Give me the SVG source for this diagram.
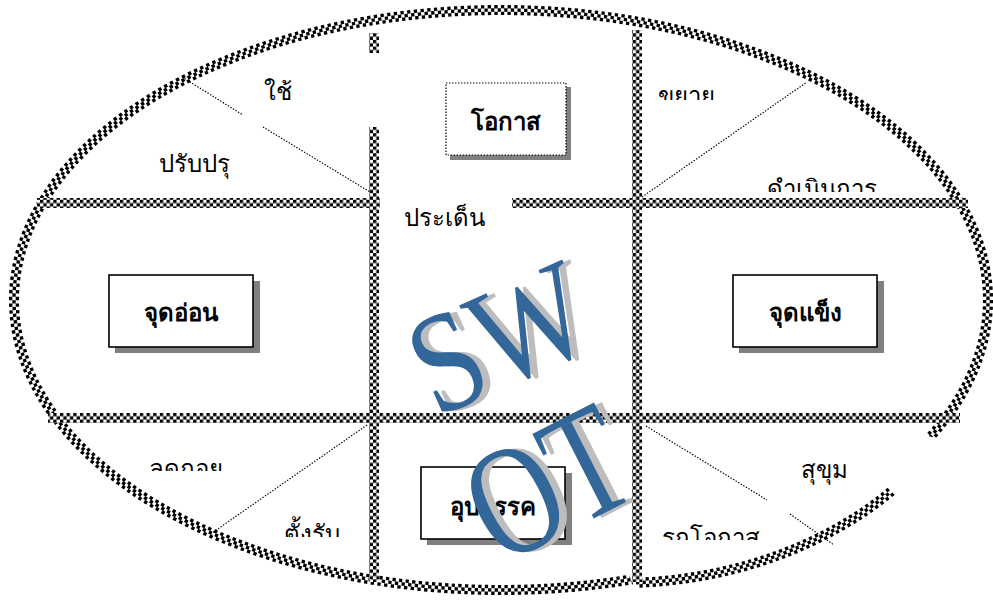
<svg xmlns="http://www.w3.org/2000/svg" width="993" height="602" viewBox="0 0 993 602">
<style>
.lbl{font-family:"Noto Sans","DejaVu Sans",sans-serif;font-size:24px;fill:#000;text-anchor:middle}
.bl{font-family:"Noto Sans","DejaVu Sans",sans-serif;font-size:24px;font-weight:bold;fill:#000;text-anchor:middle}
.box{fill:#fff;stroke:#000;stroke-width:1.6}
.shd{fill:#808080}
.dot{stroke:#000;stroke-width:1.2;stroke-dasharray:1.4 1.6;fill:none}
.chk{fill:url(#chk)}
.ring{fill:none;stroke:#000;stroke-width:3.4;stroke-dasharray:3.333 3.333}
.under{fill:none;stroke:#fff;stroke-width:10}
.big{font-family:"Liberation Serif","Times New Roman",serif;font-size:150px}
</style>
<defs>
<pattern id="chk" width="6.66" height="6.66" patternUnits="userSpaceOnUse">
<rect width="6.66" height="6.66" fill="#fff"/>
<rect width="3.33" height="3.33" fill="#000"/>
<rect x="3.33" y="3.33" width="3.33" height="3.33" fill="#000"/>
</pattern>
<mask id="gap" maskUnits="userSpaceOnUse" x="0" y="0" width="993" height="602">
<rect width="993" height="602" fill="#fff"/>
<polygon points="501,300 1794,711 906,1170" fill="#000"/>
</mask>
<clipPath id="c1"><rect x="640" y="70" width="100" height="30"/></clipPath>
<clipPath id="c2"><rect x="750" y="160" width="150" height="32"/></clipPath>
<clipPath id="c3"><rect x="130" y="440" width="120" height="31"/></clipPath>
<clipPath id="c4"><rect x="270" y="490" width="90" height="47"/></clipPath>
<clipPath id="c5"><rect x="650" y="505" width="130" height="35"/></clipPath>
</defs>
<rect width="993" height="602" fill="#fff"/>

<g id="outline">
<g mask="url(#gap)">
<ellipse class="under" cx="501" cy="300" rx="487" ry="290"/>
<path class="ring" pathLength="2480" d="M 10.67 300 A 490.33 293.33 0 0 1 501 6.67 A 490.33 293.33 0 0 1 991.33 300 A 490.33 293.33 0 0 1 501 593.33 A 490.33 293.33 0 0 1 10.67 300 Z"/>
<path class="ring" pathLength="2480" stroke-dashoffset="3.333" d="M 14 300 A 487 290 0 0 1 501 10 A 487 290 0 0 1 988 300 A 487 290 0 0 1 501 590 A 487 290 0 0 1 14 300 Z"/>
<path class="ring" pathLength="2480" d="M 17.33 300 A 483.67 286.67 0 0 1 501 13.33 A 483.67 286.67 0 0 1 984.67 300 A 483.67 286.67 0 0 1 501 586.67 A 483.67 286.67 0 0 1 17.33 300 Z"/>
</g>
<path class="under" d="M 891.18 491.41 A 377 300 0 0 1 636 582.73"/>
<path class="ring" pathLength="280" d="M 893.57 493.72 A 380.33 303.33 0 0 1 636.14 586.06"/>
<path class="ring" pathLength="280" stroke-dashoffset="3.333" d="M 891.18 491.41 A 377 300 0 0 1 636 582.73"/>
<path class="ring" pathLength="280" d="M 888.78 489.1 A 373.67 296.67 0 0 1 635.86 579.4"/>
</g>

<g id="connectors">
<rect class="chk" x="37" y="198" width="343" height="10"/>
<rect class="chk" x="512" y="198" width="456" height="10"/>
<rect class="chk" x="48" y="413" width="912" height="10"/>
<rect class="chk" x="369" y="33" width="10" height="20"/>
<rect class="chk" x="369" y="127" width="10" height="455"/>
<rect class="chk" x="632" y="30" width="10" height="552"/>
<line class="dot" x1="182" y1="77" x2="243" y2="115"/>
<line class="dot" x1="263" y1="127" x2="370" y2="192"/>
<line class="dot" x1="642" y1="197" x2="807" y2="82"/>
<line class="dot" x1="367" y1="425" x2="212" y2="533"/>
<line class="dot" x1="646" y1="426" x2="767" y2="500"/>
<line class="dot" x1="790" y1="514" x2="834" y2="545"/>
</g>

<g id="n-use"><text class="lbl" x="278" y="100" font-size="28">ใช้</text></g>
<g id="n-improve"><text class="lbl" x="194" y="172" font-size="28">ปรับปรุ</text></g>
<g id="n-issue"><text class="lbl" x="444" y="226" font-size="28">ประเด็น</text></g>
<g id="n-expand" clip-path="url(#c1)"><text class="lbl" x="686" y="104" font-size="22">ขยาย</text></g>
<g id="n-operate" clip-path="url(#c2)"><text class="lbl" x="822" y="197" font-size="28">ดำเนินการ</text></g>
<g id="n-reduce" clip-path="url(#c3)"><text class="lbl" x="186" y="477" font-size="28">ลดถอย</text></g>
<g id="n-defend" clip-path="url(#c4)"><text class="lbl" x="312" y="542" font-size="28">ตั้งรับ</text></g>
<g id="n-calm"><text class="lbl" x="824" y="478" font-size="28">สุขุม</text></g>
<g id="n-attack" clip-path="url(#c5)"><text class="lbl" x="711" y="546" font-size="28">รุกโอกาส</text></g>

<g id="n-opportunity">
<rect class="shd" x="450" y="87" width="121" height="73"/>
<rect x="446" y="83" width="120" height="72" fill="#fff" stroke="#000" stroke-width="1.2" stroke-dasharray="1.4 1.6"/>
<text class="bl" x="506" y="130" font-size="26">โอกาส</text>
</g>
<g id="n-weakness">
<rect class="shd" x="115" y="281" width="145" height="72"/>
<rect class="box" x="109" y="275" width="144" height="72"/>
<text class="bl" x="181" y="321" font-size="26">จุดอ่อน</text>
</g>
<g id="n-strength">
<rect class="shd" x="739" y="281" width="145" height="72"/>
<rect class="box" x="733" y="275" width="144" height="72"/>
<text class="bl" x="805" y="321" font-size="26">จุดแข็ง</text>
</g>
<g id="n-threat">
<rect class="shd" x="427" y="473" width="145" height="72"/>
<rect class="box" x="421" y="467" width="144" height="72"/>
<text class="bl" x="493" y="515" font-size="26">อุปสรรค</text>
</g>

<g id="swot">
<g transform="translate(436,418) rotate(-24) scale(0.8,0.95)">
<text class="big" x="9" y="3" fill="#bdbdbd">SW</text>
<text class="big" x="0" y="0" fill="#336699">SW</text>
</g>
<g transform="translate(500,566) rotate(-27) scale(0.8,1.05)">
<text class="big" x="9" y="3" fill="#bdbdbd">OT</text>
<text class="big" x="0" y="0" fill="#336699">OT</text>
</g>
</g>
</svg>
